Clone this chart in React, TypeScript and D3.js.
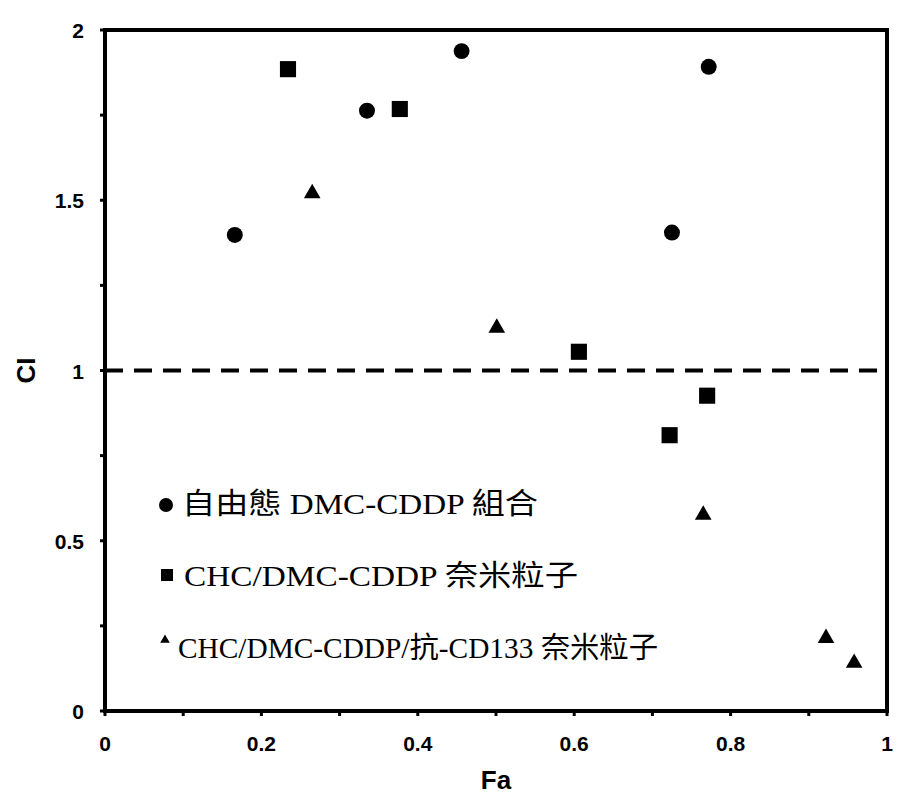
import React from "react";
import * as d3 from "d3";

const freeFa = [0.166, 0.335, 0.456, 0.725, 0.772];
const freeCI = [1.398, 1.763, 1.938, 1.405, 1.892];
const nanoFa = [0.234, 0.377, 0.606, 0.722, 0.770];
const nanoCI = [1.885, 1.768, 1.055, 0.81, 0.926];
const antiFa = [0.265, 0.501, 0.765, 0.922, 0.958];
const antiCI = [1.52, 1.125, 0.576, 0.214, 0.141];
const xTicks = [0, 0.2, 0.4, 0.6, 0.8, 1];
const yTicks = [0, 0.5, 1, 1.5, 2];
const legendLabels = [
  "自由態 DMC-CDDP 組合",
  "CHC/DMC-CDDP 奈米粒子",
  "CHC/DMC-CDDP/抗-CD133 奈米粒子",
];

const W = 897, H = 798;
const x = d3.scaleLinear().domain([0, 1]).range([105, 887]);
const y = d3.scaleLinear().domain([0, 2]).range([711, 30]);

const tickFont = "'Liberation Sans', Arial, sans-serif";
const legFont = "'Liberation Serif', 'Times New Roman', 'Noto Sans CJK TC', serif";

export default function App() {
  const circle = d3.symbol().type(d3.symbolCircle).size(200);
  const square = d3.symbol().type(d3.symbolSquare).size(260);
  const tri = d3.symbol().type(d3.symbolTriangle).size(120);
  const minorX = d3.range(0, 1.0001, 0.1);
  const minorY = d3.range(0, 2.0001, 0.25);
  return (
    <svg width={W} height={H} style={{ position: "absolute", left: 0, top: 0, background: "#fff" }}>
      <rect x={0} y={0} width={W} height={H} fill="#fff" />
      {/* dashed CI = 1 line */}
      <line x1={x(0)} x2={x(1)} y1={y(1)} y2={y(1)} stroke="#000" strokeWidth={4} strokeDasharray="18 11" />
      {/* frame */}
      <rect x={x(0)} y={y(2)} width={x(1) - x(0)} height={y(0) - y(2)} fill="none" stroke="#000" strokeWidth={4} />
      {/* ticks */}
      {minorX.map((t, i) => (
        <line key={"mx" + i} x1={x(t)} x2={x(t)} y1={y(0)} y2={y(0) + 5} stroke="#000" strokeWidth={3} />
      ))}
      {minorY.map((t, i) => (
        <line key={"my" + i} x1={x(0) - 5} x2={x(0)} y1={y(t)} y2={y(t)} stroke="#000" strokeWidth={3} />
      ))}
      {xTicks.map((t) => (
        <text key={"xt" + t} x={x(t)} y={751} textAnchor="middle" fontFamily={tickFont} fontWeight="bold" fontSize={21}>
          {String(t)}
        </text>
      ))}
      {yTicks.map((t) => (
        <text key={"yt" + t} x={84} y={y(t) + 8} textAnchor="end" fontFamily={tickFont} fontWeight="bold" fontSize={21}>
          {String(t)}
        </text>
      ))}
      <text x={496} y={789} textAnchor="middle" fontFamily={tickFont} fontWeight="bold" fontSize={26}>Fa</text>
      <text transform={`translate(35,${y(1)}) rotate(-90)`} textAnchor="middle" fontFamily={tickFont} fontWeight="bold" fontSize={26}>CI</text>
      {/* data */}
      {freeFa.map((f, i) => (
        <path key={"c" + i} d={circle()!} transform={`translate(${x(f)},${y(freeCI[i])})`} fill="#000" />
      ))}
      {nanoFa.map((f, i) => (
        <path key={"s" + i} d={square()!} transform={`translate(${x(f)},${y(nanoCI[i])})`} fill="#000" />
      ))}
      {antiFa.map((f, i) => (
        <path key={"t" + i} d={tri()!} transform={`translate(${x(f)},${y(antiCI[i])})`} fill="#000" />
      ))}
      {/* legend */}
      <circle cx={166} cy={505} r={7} fill="#000" />
      <rect x={161} y={569} width={12} height={12} fill="#000" />
      <path d={d3.symbol().type(d3.symbolTriangle).size(40)()!} transform="translate(165,640)" fill="#000" />
      <text x={182} y={514} fontFamily={legFont} fontSize={29} textLength={356} lengthAdjust="spacingAndGlyphs">{legendLabels[0]}</text>
      <text x={184} y={586} fontFamily={legFont} fontSize={29} textLength={394} lengthAdjust="spacingAndGlyphs">{legendLabels[1]}</text>
      <text x={178} y={658} fontFamily={legFont} fontSize={29} textLength={480} lengthAdjust="spacingAndGlyphs">{legendLabels[2]}</text>
    </svg>
  );
}
